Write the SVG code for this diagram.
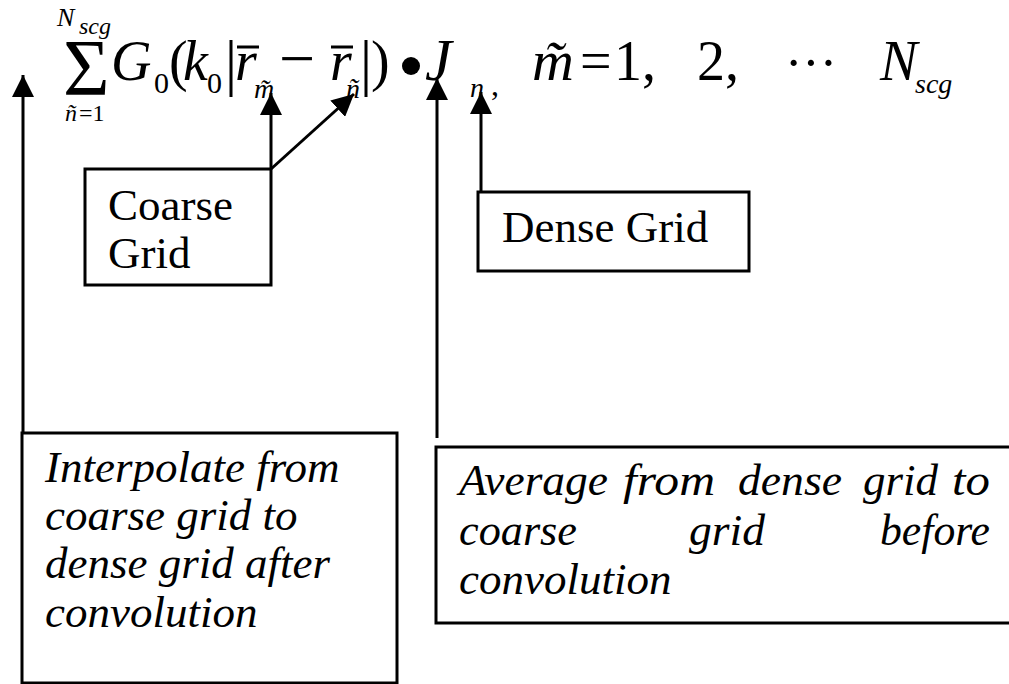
<svg xmlns="http://www.w3.org/2000/svg" width="1009" height="684" viewBox="0 0 1009 684">
<style>
.eq{font-family:"Liberation Serif","Times New Roman",serif;fill:#000}
.it{font-style:italic}
.lbl{font-family:"Liberation Serif","Times New Roman",serif;font-size:45px;fill:#000}
.note{font-family:"Liberation Serif","Times New Roman",serif;font-size:45px;font-style:italic;fill:#000}
.box{fill:none;stroke:#000;stroke-width:3}
.conn{fill:none;stroke:#000;stroke-width:3;marker-end:url(#ah)}
.bar{stroke:#000;stroke-width:3}
</style>
<defs>
<marker id="ah" markerUnits="userSpaceOnUse" markerWidth="22" markerHeight="22" refX="22" refY="11" orient="auto" viewBox="0 0 22 22">
<path d="M0,0 L22,11 L0,22 z" fill="#000"/>
</marker>
</defs>
<rect width="1009" height="684" fill="#fff"/>
<g id="equation">
<text class="eq"><tspan class="it" x="57" y="26" font-size="26">N</tspan><tspan class="it" x="79" y="34" font-size="24">scg</tspan><tspan x="63" y="95" font-size="80">Σ</tspan><tspan class="it" x="65" y="121" font-size="24">ñ</tspan><tspan x="79" y="121" font-size="24">=1</tspan></text>
<text class="eq it" x="111" y="80" font-size="56">G</text>
<text class="eq" x="154" y="93" font-size="30">0</text>
<text class="eq" x="169" y="80" font-size="56">(</text>
<text class="eq it" x="183" y="80" font-size="56">k</text>
<text class="eq" x="207" y="93" font-size="30">0</text>
<line class="bar" x1="231" y1="40" x2="231" y2="97"/>
<text class="eq it" x="235" y="80" font-size="56">r</text>
<line class="bar" x1="237" y1="47" x2="259" y2="47"/>
<text class="eq it" x="254" y="98" font-size="28">m̃</text>
<text class="eq" x="279" y="80" font-size="64">−</text>
<text class="eq it" x="330" y="80" font-size="56">r</text>
<line class="bar" x1="331" y1="47" x2="353" y2="47"/>
<text class="eq it" x="346" y="98" font-size="28">ñ</text>
<line class="bar" x1="366" y1="40" x2="366" y2="97"/>
<text class="eq" x="371" y="80" font-size="56">)</text>
<circle cx="411" cy="66" r="9" fill="#000"/>
<text class="eq it" x="425" y="80" font-size="60">J</text>
<text class="eq it" x="470" y="97" font-size="28">n</text>
<text class="eq" x="491" y="95" font-size="32">,</text>
<text class="eq it" x="532" y="80" font-size="58">m̃</text>
<text class="eq" x="580" y="80" font-size="56">=</text>
<text class="eq" x="614" y="80" font-size="56">1,</text>
<text class="eq" x="697" y="80" font-size="56">2,</text>
<text class="eq" x="785" y="80" font-size="52">···</text>
<text class="eq it" x="880" y="80" font-size="56">N</text>
<text class="eq it" x="915" y="93" font-size="28">scg</text>
</g>
<g id="coarse-grid">
<rect class="box" x="85" y="169" width="186" height="116"/>
<text class="lbl" x="108" y="220">Coarse</text>
<text class="lbl" x="108" y="268">Grid</text>
</g>
<g id="dense-grid">
<rect class="box" x="478" y="192" width="271" height="79"/>
<text class="lbl" x="502" y="242">Dense Grid</text>
</g>
<g id="interpolate">
<rect class="box" x="22" y="433" width="375" height="250"/>
<text class="note" x="45" y="482">Interpolate from</text>
<text class="note" x="45" y="530">coarse grid to</text>
<text class="note" x="45" y="578">dense grid after</text>
<text class="note" x="45" y="627">convolution</text>
</g>
<g id="average">
<rect class="box" x="436" y="447" width="600" height="176"/>
<text class="note" y="495"><tspan x="459" textLength="149" lengthAdjust="spacingAndGlyphs">Average</tspan><tspan x="623" textLength="92" lengthAdjust="spacingAndGlyphs">from</tspan><tspan x="738" textLength="104" lengthAdjust="spacingAndGlyphs">dense</tspan><tspan x="863" textLength="75" lengthAdjust="spacingAndGlyphs">grid</tspan><tspan x="952" textLength="38" lengthAdjust="spacingAndGlyphs">to</tspan></text>
<text class="note" y="545"><tspan x="459" textLength="118" lengthAdjust="spacingAndGlyphs">coarse</tspan><tspan x="689" textLength="76" lengthAdjust="spacingAndGlyphs">grid</tspan><tspan x="880" textLength="110" lengthAdjust="spacingAndGlyphs">before</tspan></text>
<text class="note" x="459" y="594">convolution</text>
</g>
<g id="connectors">
<line class="conn" x1="23" y1="433" x2="23" y2="75"/>
<line class="conn" x1="271" y1="169" x2="271" y2="93"/>
<line class="conn" x1="271" y1="169" x2="354" y2="94"/>
<line class="conn" x1="437" y1="438" x2="437" y2="78"/>
<line class="conn" x1="481" y1="192" x2="481" y2="92"/>
</g>
</svg>
